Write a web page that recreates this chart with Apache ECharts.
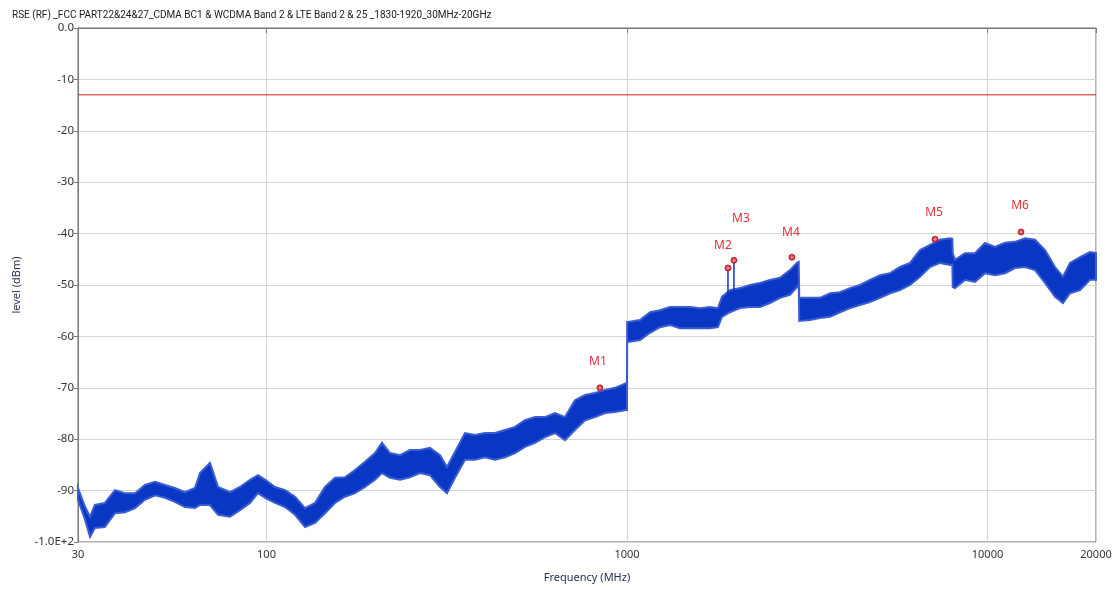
<!DOCTYPE html>
<html>
<head>
<meta charset="utf-8">
<script src="https://cdn.jsdelivr.net/npm/echarts@6/dist/echarts.min.js"></script>
<style>
html,body{margin:0;padding:0;background:#fff;}
#chart{width:1116px;height:590px;}
</style>
</head>
<body>
<div id="chart"></div>
<script>
// ---------- DATA ----------
const titleText = 'RSE (RF) _FCC PART22&24&27_CDMA BC1 & WCDMA Band 2 & LTE Band 2 & 25 _1830-1920_30MHz-20GHz';
const xTicks = [30, 100, 1000, 10000, 20000];
const xTickLabels = ['30', '100', '1000', '10000', '20000'];
const yTicks = [0, -10, -20, -30, -40, -50, -60, -70, -80, -90, -100];
const yTickLabels = ['0.0', '-10', '-20', '-30', '-40', '-50', '-60', '-70', '-80', '-90', '-1.0E+2'];

// trace envelope (MHz, lower dBm, upper dBm)
const bandFreq = [30, 31.4, 32.4, 33.4, 35.6, 38.0, 40.5, 43.2, 46.0, 49.1, 52.3, 55.7, 59.4, 63.3, 65.4, 69.7, 73.4, 79.2, 84.4, 90.0, 94.7, 99.7,
  105.6, 112.6, 120.0, 127.9, 136.3, 145.3, 154.9, 165.1, 176.0, 187.6, 200.0, 209.1, 220.1, 234.6, 250.0, 266.5, 284.1, 302.9, 316.7, 333.3,
  355.3, 378.7, 403.8, 430.4, 458.9, 489.1, 521.3, 555.7, 592.3, 631.5, 673.0, 717.3, 764.8, 815.2, 869.1, 926.3, 993.6, 1000,
  1001, 1006.6, 1086.7, 1158.6, 1234.9, 1316.2, 1402.9, 1495.3, 1593.8, 1698.8, 1788, 1834, 1930, 2058, 2194, 2338, 2493, 2657, 2832, 2962, 2995,
  3005, 3218, 3431, 3658, 3898, 4156, 4430, 4722, 5035, 5366, 5719, 6098, 6499, 6928, 7384, 7871, 7990,
  8010, 8127, 8662, 9232, 9842, 10490, 11183, 11922, 12707, 13545, 14441, 15393, 16200, 16940, 18058, 19248, 20000];
const bandLo = [-91.8, -95.7, -99.0, -97.3, -97.1, -94.4, -94.2, -93.4, -91.8, -90.9, -91.4, -92.2, -93.2, -93.4, -92.8, -92.8, -94.7, -95.1, -93.8, -92.4, -90.5, -91.5,
  -92.4, -93.2, -94.7, -97.1, -96.3, -94.4, -92.4, -91.2, -90.5, -89.3, -87.9, -86.6, -87.5, -87.9, -87.4, -86.6, -87.0, -89.3, -90.5, -87.5,
  -84.0, -84.0, -83.5, -84.0, -83.5, -82.7, -81.5, -80.7, -79.6, -78.8, -80.2, -78.2, -76.3, -75.7, -74.9, -74.7, -74.3, -74.3,
  -61.1, -61.1, -60.7, -59.3, -58.2, -57.8, -58.4, -58.4, -58.4, -58.4, -58.2, -56.2, -55.3, -54.5, -54.3, -54.3, -53.5, -52.5, -51.9, -50.4, -50.0,
  -57.0, -56.8, -56.4, -56.2, -55.3, -54.5, -53.9, -53.3, -52.5, -51.6, -51.0, -50.0, -48.4, -46.5, -45.7, -46.1, -46.0,
  -50.4, -50.6, -49.0, -49.4, -47.7, -48.1, -47.7, -46.7, -46.5, -47.1, -49.6, -52.3, -53.5, -51.6, -51.0, -49.0, -49.0];
const bandHi = [-89.5, -93.2, -95.1, -92.8, -92.4, -89.9, -90.5, -90.5, -88.9, -88.3, -88.9, -89.5, -90.3, -89.5, -86.6, -84.6, -89.3, -90.3, -89.3, -87.9, -87.0, -88.0,
  -89.3, -89.9, -91.2, -93.4, -92.4, -89.3, -87.5, -87.4, -86.0, -84.4, -82.7, -80.7, -82.7, -83.1, -82.1, -82.1, -81.7, -83.1, -85.4, -82.5,
  -78.8, -79.2, -78.8, -78.8, -78.2, -77.6, -76.3, -75.7, -75.7, -74.9, -75.7, -72.4, -71.4, -71.0, -70.4, -70.0, -69.1, -69.1,
  -57.2, -57.2, -56.8, -55.3, -54.9, -54.3, -54.3, -54.3, -54.5, -54.3, -54.5, -52.3, -51.0, -50.6, -50.0, -49.6, -49.0, -48.6, -47.1, -45.7, -45.5,
  -52.5, -52.5, -52.5, -51.6, -51.4, -50.6, -50.0, -49.0, -48.1, -47.7, -46.5, -45.7, -43.2, -42.2, -41.2, -40.9, -41.0,
  -43.8, -45.1, -43.8, -43.8, -41.8, -42.6, -41.8, -41.6, -40.9, -41.2, -43.2, -46.5, -48.4, -45.7, -44.6, -43.6, -43.8];

// narrow emission spikes (MHz, base dBm, peak dBm)
const spikeFreq = [1906, 1980];
const spikeBase = [-53.5, -53.0];
const spikePeak = [-46.7, -45.2];

// markers
const markerNames = ['M1', 'M2', 'M3', 'M4', 'M5', 'M6'];
const markerFreq = [841, 1906, 1980, 2868, 7153, 12390];
const markerLevel = [-70.0, -46.7, -45.2, -44.6, -41.1, -39.7];

// limit line
const limitFreq = [30, 20000];
const limitLevel = [-13, -13];

// ---------- STYLE (label offsets in px, not data) ----------
const markerLabelOffset = [[-2, -26], [-5, -22], [7, -42], [-1, -25], [-1, -27], [-1, -26]];
const FONT = 'Noto Sans';
const TITLE_FONT = 'Roboto';

const chart = echarts.init(document.getElementById('chart'), null, {renderer: 'canvas'});

const option = {
  animation: false,
  backgroundColor: '#ffffff',
  title: {
    text: titleText, left: 7, top: 5,
    textStyle: {fontSize: 10, fontWeight: 'normal', color: '#1a1a1a', fontFamily: TITLE_FONT}
  },
  grid: {left: 78, top: 28, right: 20, bottom: 48, show: true, borderColor: '#6a6a6a', borderWidth: 1, backgroundColor: 'transparent'},
  xAxis: {
    type: 'log', logBase: 10, min: 30, max: 20000,
    name: 'Frequency (MHz)', nameLocation: 'middle', nameGap: 30,
    nameTextStyle: {fontSize: 11, color: '#1f2d4d', fontFamily: FONT},
    axisLine: {show: true, lineStyle: {color: '#7a7a7a'}},
    axisTick: {show: true, length: 5, lineStyle: {color: '#7a7a7a'}},
    minorTick: {show: false},
    axisLabel: {
      fontSize: 11, color: '#333', fontFamily: FONT, margin: 7, showMinLabel: true, showMaxLabel: true,
      formatter: function (v) {
        for (let i = 0; i < xTicks.length; i++) { if (Math.abs(v - xTicks[i]) / xTicks[i] < 1e-6) return xTickLabels[i]; }
        return '';
      }
    },
    splitLine: {show: true, lineStyle: {color: '#d4d4d4', width: 1}}
  },
  yAxis: {
    type: 'value', min: -100, max: 0, interval: 10,
    name: 'level (dBm)', nameLocation: 'middle', nameGap: 56, nameRotate: 90,
    nameTextStyle: {fontSize: 11, color: '#1f2d4d', fontFamily: FONT},
    axisLine: {show: true, lineStyle: {color: '#7a7a7a'}},
    axisTick: {show: true, length: 4, lineStyle: {color: '#7a7a7a'}},
    axisLabel: {
      fontSize: 11.5, color: '#333', fontFamily: FONT, margin: 4,
      formatter: function (v) {
        const i = yTicks.indexOf(Math.round(v));
        return i >= 0 ? yTickLabels[i] : '';
      }
    },
    splitLine: {show: true, lineStyle: {color: '#d4d4d4', width: 1}}
  },
  series: [
    {
      type: 'line', name: 'limit', data: limitFreq.map((f, i) => [f, limitLevel[i]]),
      symbol: 'none', lineStyle: {color: '#d11f1f', width: 1}, z: 3
    },
    {
      type: 'custom', name: 'trace',
      data: bandFreq.map((f, i) => [f, bandLo[i], bandHi[i]]),
      encode: {x: 0, y: [1, 2]},
      renderItem: function (params, api) {
        if (params.dataIndex !== 0) return null;
        const top = [], bot = [];
        for (let i = 0; i < bandFreq.length; i++) {
          top.push(api.coord([bandFreq[i], bandHi[i]]));
          bot.push(api.coord([bandFreq[i], bandLo[i]]));
        }
        return {
          type: 'polygon',
          shape: {points: top.concat(bot.reverse())},
          style: {fill: '#0a36c4', stroke: '#3a5ed2', lineWidth: 2, lineJoin: 'miter'}
        };
      },
      z: 4
    },
    {
      type: 'custom', name: 'spikes',
      data: spikeFreq.map((f, i) => [f, spikeBase[i], spikePeak[i]]),
      encode: {x: 0, y: [1, 2]},
      renderItem: function (params, api) {
        const a = api.coord([api.value(0), api.value(1)]);
        const b = api.coord([api.value(0), api.value(2)]);
        return {type: 'line', shape: {x1: a[0], y1: a[1], x2: b[0], y2: b[1]}, style: {stroke: '#0a36c4', lineWidth: 1.5}};
      },
      z: 5
    },
    {
      type: 'custom', name: 'markers',
      data: markerFreq.map((f, i) => [f, markerLevel[i]]),
      encode: {x: 0, y: 1},
      renderItem: function (params, api) {
        const i = params.dataIndex;
        const p = api.coord([api.value(0), api.value(1)]);
        const off = markerLabelOffset[i];
        return {
          type: 'group',
          children: [
            {type: 'circle', shape: {cx: p[0], cy: p[1], r: 3}, style: {fill: '#d8283a', stroke: '#b01828', lineWidth: 0.8}},
            {type: 'line', shape: {x1: p[0] - 2, y1: p[1], x2: p[0] + 2, y2: p[1]}, style: {stroke: '#ffb0b8', lineWidth: 0.8}},
            {type: 'line', shape: {x1: p[0], y1: p[1] - 2, x2: p[0], y2: p[1] + 2}, style: {stroke: '#ffb0b8', lineWidth: 0.8}},
            {type: 'text', x: p[0] + off[0], y: p[1] + off[1],
              style: {text: markerNames[i], fill: '#e5303a', font: '12px "' + FONT + '"', align: 'center', verticalAlign: 'middle'}}
          ]
        };
      },
      z: 6
    }
  ]
};
chart.setOption(option);
</script>
</body>
</html>
